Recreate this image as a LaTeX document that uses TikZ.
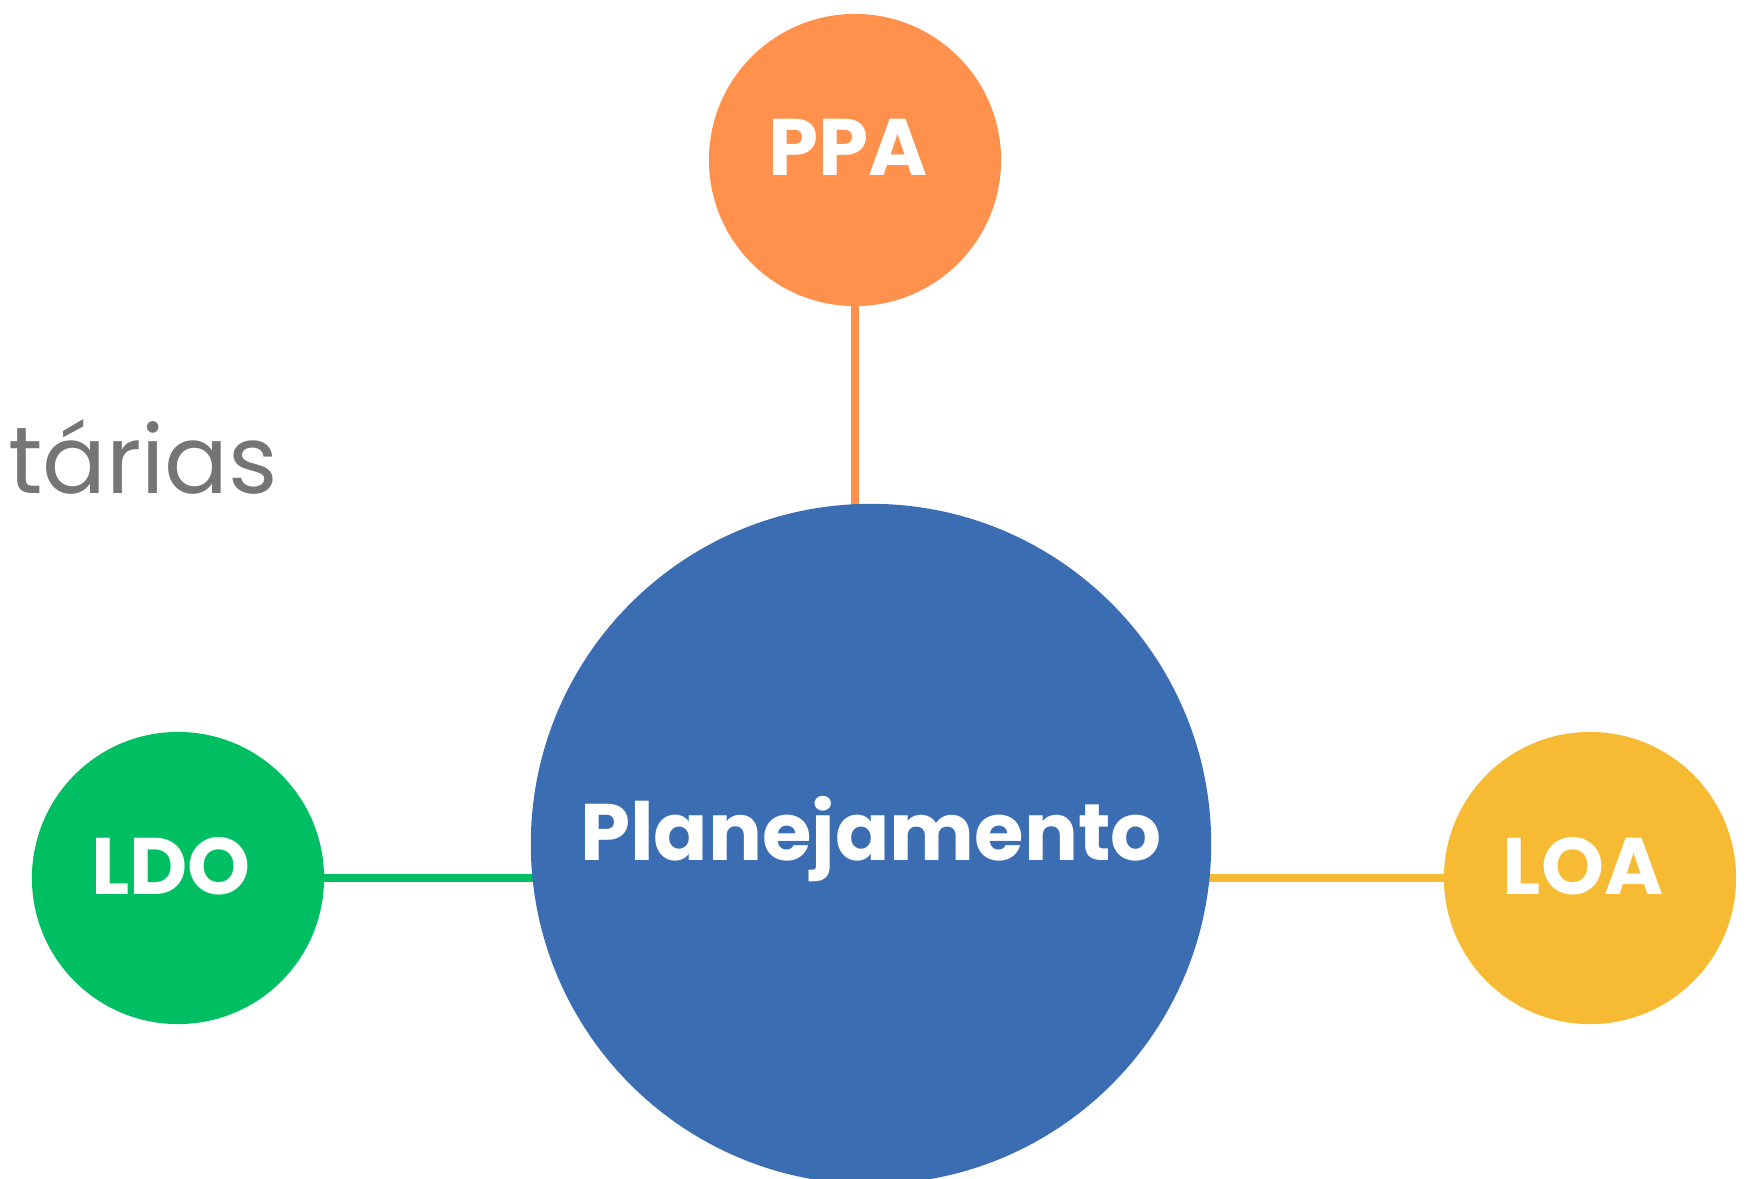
\documentclass[tikz,border=0pt]{standalone}
\usepackage{fontspec}
\setmainfont{Poppins}
\usetikzlibrary{positioning, backgrounds}
\definecolor{ppaorange}{HTML}{FF914D}
\definecolor{planblue}{HTML}{3B6DB3}
\definecolor{ldogreen}{HTML}{00BF63}
\definecolor{loayellow}{HTML}{F6BB33}
\definecolor{textgray}{HTML}{757575}
\tikzset{set/.style={circle,inner sep=0pt,align=center}}

\begin{document}
\begin{tikzpicture}[
		x=0.01cm, y=-0.01cm,
		set/.style={circle, inner sep=0pt, text=white, text depth=0.25cm,
			font=\fontsize{22.8}{24}\selectfont\bfseries},
		small/.style={set, minimum size=2.92cm, execute at end node=\hspace{0.14cm}},
		link/.style={line width=0.08cm}
		]
		\useasboundingbox (0,0) rectangle (1757,1178);
		\clip (0,0) rectangle (1757,1178);
		% Circles
		\node[set, minimum size=6.8cm, text depth=0.32cm, fill=planblue] (plan) at (871,844) {Planejamento};
		\node[small, fill=ppaorange] (ppa) at (855,160) {PPA};
		\node[small, fill=ldogreen] (ldo) at (178,878) {LDO};
		\node[small, fill=loayellow] (loa) at (1590,878) {LOA};
		
		% Side text
		\node[anchor=base east, inner sep=0pt, text=textgray,
			font=\fontsize{26.9}{29}\selectfont] (orc) at (279,493) {tárias};
		
		% Links
		\begin{scope}[on background layer]
			\draw[link, ppaorange] (ppa.center) -- (ppa.center |- plan.center);
			\draw[link, ldogreen] (ldo.center) -- (ldo.center -| plan.center);
			\draw[link, loayellow] (loa.center) -- (loa.center -| plan.center);
		\end{scope}
	\end{tikzpicture}
\end{document}
